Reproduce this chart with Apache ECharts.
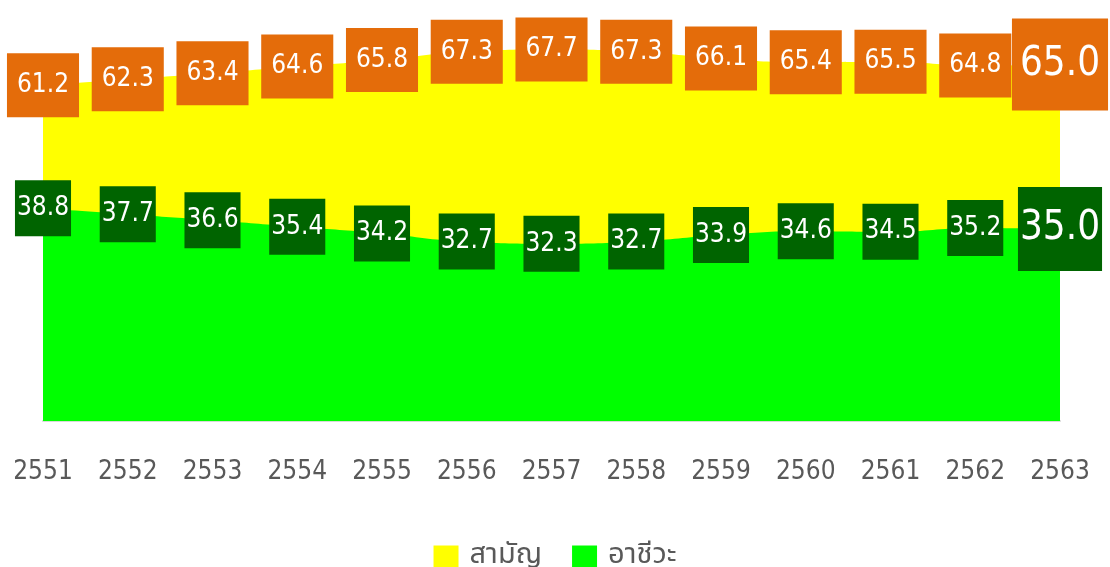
<!DOCTYPE html>
<html>
<head>
<meta charset="utf-8">
<script src="https://cdn.jsdelivr.net/npm/echarts@6/dist/echarts.min.js"></script>
<style>html,body{margin:0;padding:0;background:#fff}#c{width:1110px;height:567px}</style>
</head>
<body>
<div id="c"></div>
<script>
const years = ['2551','2552','2553','2554','2555','2556','2557','2558','2559','2560','2561','2562','2563'];
const general = [61.2, 62.3, 63.4, 64.6, 65.8, 67.3, 67.7, 67.3, 66.1, 65.4, 65.5, 64.8, 65.0];
const vocational = [38.8, 37.7, 36.6, 35.4, 34.2, 32.7, 32.3, 32.7, 33.9, 34.6, 34.5, 35.2, 35.0];
const seriesNames = ['สามัญ', 'อาชีวะ'];

const FONT = '"DejaVu Sans Condensed", "DejaVu Sans", sans-serif';

function buildData(vals, bigLabel) {
  return vals.map((v, i) => i === vals.length - 1 ? { value: v, label: bigLabel } : v);
}

const chart = echarts.init(document.getElementById('c'), null, { renderer: 'canvas' });
chart.setOption({
  animation: false,
  grid: { left: 43, right: 50, top: 37, bottom: 146 },
  xAxis: {
    type: 'category',
    data: years,
    boundaryGap: false,
    axisLine: { lineStyle: { color: '#d9d9d9', width: 2 } },
    axisTick: { show: false },
    axisLabel: { margin: 38, fontSize: 26, color: '#595959', fontFamily: FONT },
    splitLine: { show: false }
  },
  yAxis: { type: 'value', min: 0, max: 70, show: false },
  legend: {
    top: 538,
    left: 'center',
    icon: 'rect',
    itemWidth: 25,
    itemHeight: 24,
    itemGap: 30,
    textStyle: { fontSize: 29, color: '#595959', padding: [0, 0, 0, 6], fontFamily: '"Noto Sans Thai", "Noto Sans", sans-serif' },
    data: seriesNames
  },
  series: [
    {
      name: seriesNames[0],
      type: 'line',
      smooth: true,
      symbol: 'circle',
      symbolSize: 0,
      lineStyle: { width: 0 },
      itemStyle: { color: '#ffff00' },
      areaStyle: { color: '#ffff00', opacity: 1 },
      label: {
        show: true, position: 'inside',
        formatter: p => Number(p.value).toFixed(1),
        color: '#fff', fontSize: 26, fontFamily: FONT, lineHeight: 26,
        backgroundColor: '#e46c0a', padding: [19, 10]
      },
      data: buildData(general, { fontSize: 40, lineHeight: 40, padding: [26, 8] }),
      z: 2
    },
    {
      name: seriesNames[1],
      type: 'line',
      smooth: true,
      symbol: 'circle',
      symbolSize: 0,
      lineStyle: { width: 0 },
      itemStyle: { color: '#00ff00' },
      areaStyle: { color: '#00ff00', opacity: 1 },
      label: {
        show: true, position: 'inside',
        formatter: p => Number(p.value).toFixed(1),
        color: '#fff', fontSize: 26, fontFamily: FONT, lineHeight: 26,
        backgroundColor: '#006400', padding: [15, 2]
      },
      data: buildData(vocational, { fontSize: 40, lineHeight: 40, padding: [22, 2] }),
      z: 3
    }
  ]
});
</script>
</body>
</html>
